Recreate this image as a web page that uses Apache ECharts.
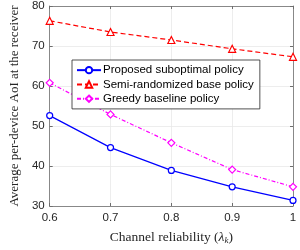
<!DOCTYPE html>
<html><head><meta charset="utf-8">
<script src="https://cdn.jsdelivr.net/npm/echarts@6/dist/echarts.min.js"></script>
<style>html,body{margin:0;padding:0;background:#fff}#c{width:300px;height:250px}</style>
</head><body><div id="c"></div>
<script>
var categories = [0.6, 0.7, 0.8, 0.9, 1.0];
var proposed = [52.6, 44.6, 38.9, 34.8, 31.4];
var semiRandom = [76.3, 73.5, 71.5, 69.3, 67.3];
var greedy = [60.8, 52.9, 45.8, 39.1, 34.8];
var seriesNames = ['Proposed suboptimal policy', 'Semi-randomized base policy', 'Greedy baseline policy'];
var yTicks = [30, 40, 50, 60, 70, 80];

function pairs(vals){ return categories.map(function(x,i){ return [x, vals[i]]; }); }
var chart = echarts.init(document.getElementById('c'), null, {renderer:'canvas'});
var axisCol = '#262626';
var lineCol = '#6e6e6e';
var tickFont = {fontFamily:'Liberation Sans, Arial', fontSize:11.5, color:axisCol};
chart.setOption({
  animation:false,
  grid:{left:33, right:7, top:6, bottom:33, show:false},
  legend:{
    left:72, top:60, orient:'vertical', itemGap:0, itemWidth:24, itemHeight:8,
    padding:[3,6,3,4], borderColor:'#262626', borderWidth:0.8, backgroundColor:'#fff',
    textStyle:{fontFamily:'Liberation Sans, Arial', fontSize:11.5, lineHeight:14.3, color:'#000', padding:[0,0,0,-3]},
    data:seriesNames
  },
  xAxis:[{
    type:'value', min:0.6, max:1.0, interval:0.1,
    axisLine:{show:true, lineStyle:{color:lineCol, width:0.8}},
    axisTick:{inside:true, length:3, lineStyle:{color:lineCol}},
    axisLabel:Object.assign({margin:6, formatter:function(v){return v===1?'1':v.toFixed(1);}}, tickFont),
    splitLine:{show:true, lineStyle:{color:'#e8e8e8', width:0.8}},
    name:'{t|Channel reliability (}{l|λ}{s|k}{t|)}', nameLocation:'middle', nameGap:23,
    nameTextStyle:{rich:{
      t:{fontFamily:'Liberation Serif, Times New Roman', fontSize:13.5, color:axisCol},
      l:{fontFamily:'Liberation Serif, Times New Roman', fontSize:13.5, fontStyle:'italic', color:axisCol},
      s:{fontFamily:'Liberation Serif, Times New Roman', fontSize:9, fontStyle:'italic', color:axisCol, verticalAlign:'bottom', padding:[7,0,0,0]}
    }}
  },{
    type:'value', position:'top', min:0.6, max:1.0, interval:0.1,
    axisLine:{show:true, lineStyle:{color:lineCol, width:0.8}},
    axisTick:{inside:true, length:3, lineStyle:{color:lineCol}},
    axisLabel:{show:false}, splitLine:{show:false}
  }],
  yAxis:[{
    type:'value', min:30, max:80, interval:10,
    axisLine:{show:true, lineStyle:{color:lineCol, width:0.8}},
    axisTick:{inside:true, length:3, lineStyle:{color:lineCol}},
    axisLabel:Object.assign({margin:5}, tickFont),
    splitLine:{show:true, lineStyle:{color:'#e8e8e8', width:0.8}},
    name:'Average per-device AoI at the receiver', nameLocation:'middle', nameGap:26.5,
    nameTextStyle:{fontFamily:'Liberation Serif, Times New Roman', fontSize:13, color:axisCol}
  },{
    type:'value', position:'right', min:30, max:80, interval:10,
    axisLine:{show:true, lineStyle:{color:lineCol, width:0.8}},
    axisTick:{inside:true, length:3, lineStyle:{color:lineCol}},
    axisLabel:{show:false}, splitLine:{show:false}
  }],
  series:[
    {name:seriesNames[0], type:'line', data:pairs(proposed), symbol:'circle', symbolSize:6,
     showAllSymbol:true, lineStyle:{color:'#0000ff', width:1.2, type:'solid'},
     itemStyle:{color:'#fff', borderColor:'#0000ff', borderWidth:1.2}, z:3},
    {name:seriesNames[1], type:'line', data:pairs(semiRandom), symbol:'triangle', symbolSize:7,
     lineStyle:{color:'#ff0000', width:1.2, type:[5,3]},
     itemStyle:{color:'#fff', borderColor:'#ff0000', borderWidth:1.2}, z:3},
    {name:seriesNames[2], type:'line', data:pairs(greedy), symbol:'diamond', symbolSize:7,
     lineStyle:{color:'#ff00ff', width:1.2, type:[4,2,1,2]},
     itemStyle:{color:'#fff', borderColor:'#ff00ff', borderWidth:1.2}, z:3}
  ]
});
</script></body></html>
